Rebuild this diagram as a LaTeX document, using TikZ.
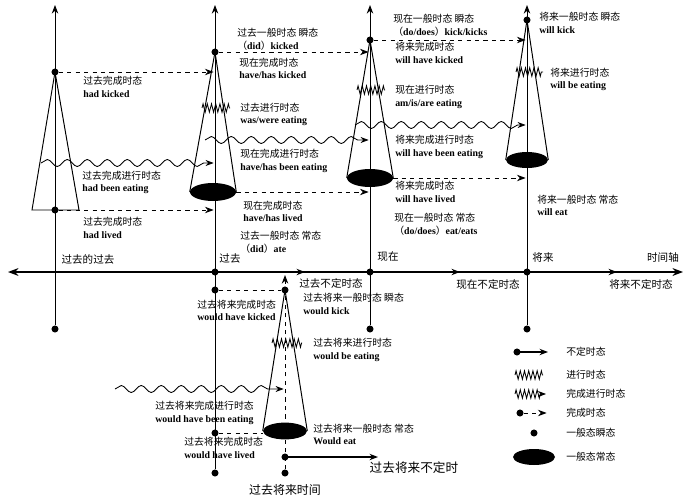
\documentclass[tikz,border=0pt]{standalone}
\usepackage{fontspec}
\setmainfont{Liberation Serif}
\newfontfamily\zh{Noto Sans CJK SC}[BoldFont={Noto Sans CJK SC}]
\usepackage{tikz}
\usetikzlibrary{arrows.meta,positioning,shapes.geometric,decorations.pathmorphing}

\begin{document}
\begin{tikzpicture}[x=0.025cm,y=-0.025cm,>=Stealth,
  dot/.style={circle,fill,inner sep=0pt,minimum size=5pt},
  blob/.style={ellipse,fill,inner sep=0pt,minimum width=11.5mm,minimum height=4.5mm},
  txt/.style={font=\fontsize{7}{9}\selectfont\bfseries,align=left,anchor=west,inner sep=0pt},
  ax/.style={font=\zh\fontsize{7.5}{9}\selectfont,inner sep=0pt},
  tl/.style={line width=0.7pt},
  perf/.style={->,dashed,line width=0.7pt,shorten >=1pt},
  wav/.style={->,line width=0.6pt,shorten >=1pt,decorate,decoration={snake,amplitude=2.5pt,segment length=5mm,post length=2mm}},
  zig/.style={line width=0.6pt,decorate,decoration={zigzag,amplitude=3pt,segment length=3pt}},
  indef/.style={-{Stealth[length=6pt]},line width=1.6pt}]
\useasboundingbox (0,0) rectangle (684,499);

% time lines
\coordinate (ppt) at (55,5);
\coordinate (pt) at (215,5);
\coordinate (nt) at (370,5);
\coordinate (ft) at (527,5);
\node[dot] (ppb) at (55,329) {};
\node[dot] (pb) at (215,473) {};
\node[dot] (nb) at (370,329) {};
\node[dot] (fb) at (527,329) {};
\draw[->,tl] (ppb) -- (ppt);
\draw[->,tl] (pb) -- (pt);
\draw[->,tl] (nb) -- (nt);
\draw[->,tl] (fb) -- (ft);

% axis
\coordinate (axl) at (8,272);
\coordinate (axr) at (683,272);
\draw[<->,line width=1pt] (axl) -- (axr);
\node[dot] (p0) at (215,272) {};
\node[dot] (n0) at (370,272) {};
\node[dot] (f0) at (527,272) {};
\coordinate (p0e) at (305,272);
\coordinate (n0e) at (460,272);
\coordinate (f0e) at (617,272);
\draw[indef] (p0.center) -- (p0e);
\draw[indef] (n0.center) -- (n0e);
\draw[indef] (f0.center) -- (f0e);
\node[ax] (lpp) at (88,259) {过去的过去};
\node[ax] (lp) at (230,258) {过去};
\node[ax] (ln) at (388,257) {现在};
\node[ax] (lf) at (543,257) {将来};
\node[ax] (lt) at (663,257) {时间轴};
\node[ax] (idp) at (331,283) {过去不定时态};
\node[ax] (idn) at (488,284) {现在不定时态};
\node[ax] (idf) at (641,284) {将来不定时态};

% past of the past
\node[dot] (a1) at (55,72) {};
\node[dot] (b1) at (55,210) {};
\coordinate (b1l) at (32,210);
\coordinate (b1r) at (79,210);
\draw[tl] (b1l) -- (a1.center) -- (b1r) -- cycle;
\draw[perf] (a1) -- (a1 -| p0);
\draw[perf] (b1) -- (b1 -| p0);
\coordinate (w1) at (41,163);
\draw[wav] (w1) -- (w1 -| p0);
\node[txt] (t11) at (83,87) {{\zh 过去完成时态}\\had kicked};
\node[txt] (t12) at (82,182.5) {{\zh 过去完成进行时态}\\had been eating};
\node[txt] (t13) at (83,228) {{\zh 过去完成时态}\\had lived};

% past
\node[dot] (a2) at (215,52) {};
\node[blob] (e2) at (213,192) {};
\draw[tl] (e2.west) -- (a2.center) -- (e2.east);
\draw[perf] (a2) -- (a2 -| n0);
\coordinate (z2) at (202,108);
\draw[zig] (z2) -- ++(28,0);
\coordinate (w2) at (205,140);
\draw[wav] (w2) -- (w2 -| n0);
\draw[perf] (e2.east) -- (e2.east -| n0);
\node[txt] (t21) at (237,39.5) {{\zh 过去一般时态 瞬态}\\{\zh （}did{\zh ）}kicked};
\node[txt] (t22) at (239,68.5) {{\zh 现在完成时态}\\have/has kicked};
\node[txt] (t23) at (240,114.5) {{\zh 过去进行时态}\\was/were eating};
\node[txt] (t24) at (240,161) {{\zh 现在完成进行时态}\\have/has been eating};
\node[txt] (t25) at (243,211.5) {{\zh 现在完成时态}\\have/has lived};
\node[txt] (t26) at (240,242.5) {{\zh 过去一般时态 常态}\\{\zh （}did{\zh ）}ate};

% present
\node[dot] (a3) at (370,40) {};
\node[blob] (e3) at (370,178) {};
\draw[tl] (e3.west) -- (a3.center) -- (e3.east);
\draw[perf] (a3) -- (a3 -| f0);
\coordinate (z3) at (357,90);
\draw[zig] (z3) -- ++(28,0);
\coordinate (w3) at (355,125);
\draw[wav] (w3) -- (w3 -| f0);
\draw[perf] (e3.east) -- (e3.east -| f0);
\node[txt] (t31) at (393,25.5) {{\zh 现在一般时态 瞬态}\\{\zh （}do/does{\zh ）}kick/kicks};
\node[txt] (t32) at (395,53) {{\zh 将来完成时态}\\will have kicked};
\node[txt] (t33) at (395,97) {{\zh 现在进行时态}\\am/is/are eating};
\node[txt] (t34) at (395,147) {{\zh 将来完成进行时态}\\will have been eating};
\node[txt] (t35) at (395,192) {{\zh 将来完成时态}\\will have lived};
\node[txt] (t36) at (394,224.5) {{\zh 现在一般时态 常态}\\{\zh （}do/does{\zh ）}eat/eats};

% future
\node[dot] (a4) at (527,20) {};
\node[blob,minimum width=10.5mm,minimum height=4mm] (e4) at (527,160) {};
\draw[tl] (e4.west) -- (a4.center) -- (e4.east);
\coordinate (z4) at (516,72);
\draw[zig] (z4) -- ++(27,0);
\node[txt] (t41) at (539,23) {{\zh 将来一般时态 瞬态}\\will kick};
\node[txt] (t42) at (550,79.5) {{\zh 将来进行时态}\\will be eating};
\node[txt] (t43) at (537,205.5) {{\zh 将来一般时态 常态}\\will eat};

% future in the past
\node[dot] (a5) at (285,290) {};
\node[blob,minimum width=11mm,minimum height=4.2mm] (e5) at (285,431) {};
\node[dot] (q1) at (285,457) {};
\node[dot] (q2) at (285,473) {};
\coordinate (q0) at (285,275);
\draw[->,dashed,tl] (q2) -- (q0);
\draw[tl] (e5.west) -- (a5.center) -- (e5.east);
\node[dot] (p5) at (215,290) {};
\draw[dashed,tl] (p5) -- (a5);
\coordinate (z5) at (272,343);
\draw[zig] (z5) -- ++(30,0);
\coordinate (w5) at (115,389);
\draw[wav] (w5) -- (w5 -| a5);
\node[dot] (p6) at (215,433) {};
\draw[dashed,tl] (p6) -- (p6 -| e5.west);
\coordinate (q1e) at (378,457);
\draw[indef] (q1.center) -- (q1e);
\node[txt] (t51) at (197,310.5) {{\zh 过去将来完成时态}\\would have kicked};
\node[txt] (t52) at (303,304) {{\zh 过去将来一般时态 瞬态}\\would kick};
\node[txt] (t53) at (313,350) {{\zh 过去将来进行时态}\\would be eating};
\node[txt] (t54) at (155,413) {{\zh 过去将来完成进行时态}\\would have been eating};
\node[txt] (t55) at (184,448) {{\zh 过去将来完成时态}\\would have lived};
\node[txt] (t56) at (313,434.5) {{\zh 过去将来一般时态 常态}\\Would eat};
\node[ax,font=\zh\fontsize{9}{11}\selectfont] (ipf) at (414,468) {过去将来不定时};
\node[ax,font=\zh\fontsize{8.5}{10}\selectfont] (tpf) at (285,490) {过去将来时间};

% legend
\node[dot] (k1) at (517,352) {};
\coordinate (k1e) at (548,352);
\draw[indef,line width=1.2pt] (k1.center) -- (k1e);
\coordinate (k2) at (515,375);
\draw[zig] (k2) -- ++(28,0);
\coordinate (k3) at (515,394);
\draw[zig,->,decoration={post length=3pt}] (k3) -- ++(31,0);
\node[dot] (k4) at (520,413) {};
\coordinate (k4e) at (548,413);
\draw[perf] (k4) -- (k4e);
\node[dot] (k5) at (534,433) {};
\node[blob,minimum width=10.5mm,minimum height=4mm] (k6) at (534,457) {};
\node[txt,font=\zh\fontsize{7}{9}\selectfont] (k1t) at (566,352) {不定时态};
\node[txt,font=\zh\fontsize{7}{9}\selectfont] (k2t) at (566,375) {进行时态};
\node[txt,font=\zh\fontsize{7}{9}\selectfont] (k3t) at (566,394) {完成进行时态};
\node[txt,font=\zh\fontsize{7}{9}\selectfont] (k4t) at (566,413) {完成时态};
\node[txt,font=\zh\fontsize{7}{9}\selectfont] (k5t) at (566,433) {一般态瞬态};
\node[txt,font=\zh\fontsize{7}{9}\selectfont] (k6t) at (566,457) {一般态常态};
\end{tikzpicture}
\end{document}
